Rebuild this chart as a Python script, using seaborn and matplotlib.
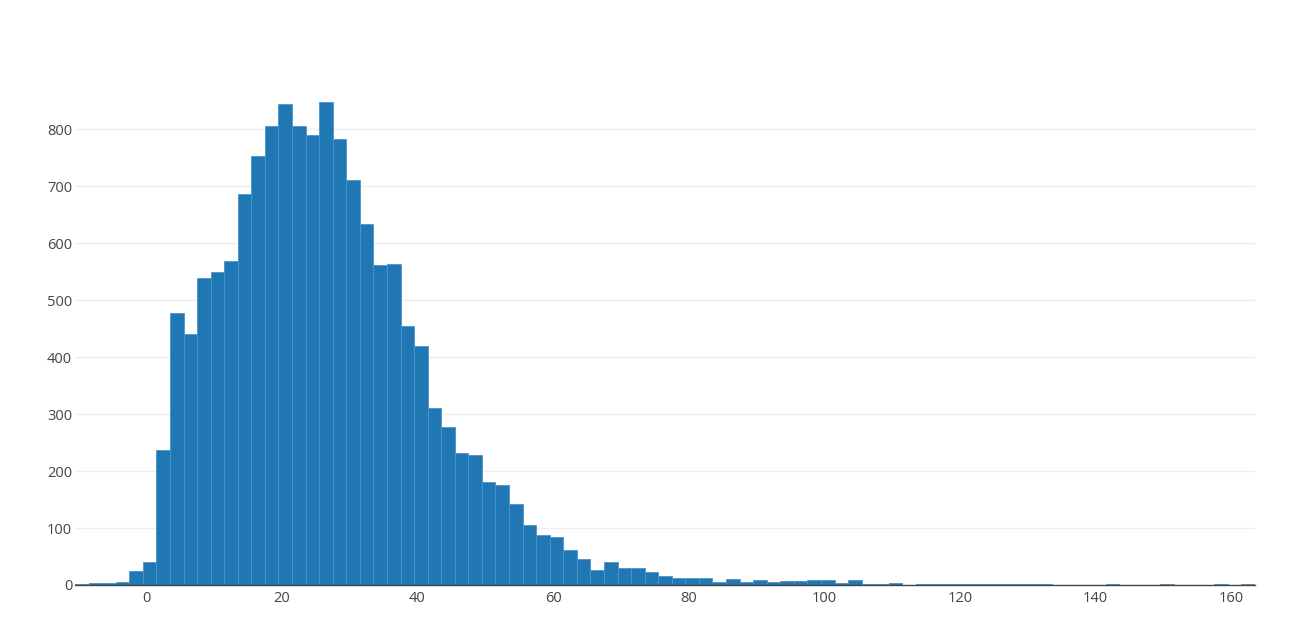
import numpy as np
import pandas as pd
import matplotlib
matplotlib.use("Agg")
import matplotlib.pyplot as plt
import seaborn as sns

# Histogram data (bin width 2, first bin starts at -10.5)
bin_start = -10.5
bin_width = 2.0
counts = [
    2, 3, 3, 5, 25, 40, 236, 477, 441, 539,
    550, 569, 686, 753, 806, 843, 805, 790, 848, 783,
    710, 634, 561, 563, 454, 420, 311, 277, 232, 228,
    181, 175, 142, 106, 87, 85, 62, 46, 26, 41,
    30, 30, 22, 15, 13, 13, 13, 5, 10, 6,
    9, 5, 7, 7, 8, 9, 3, 8, 1, 1,
    3, 0, 1, 1, 1, 1, 1, 1, 1, 1,
    1, 1, 0, 0, 0, 0, 1, 0, 0, 0,
    1, 0, 0, 0, 1, 0, 1,
]
x_ticks = [0, 20, 40, 60, 80, 100, 120, 140, 160]
y_ticks = [0, 100, 200, 300, 400, 500, 600, 700, 800]

n = len(counts)
edges = [float(bin_start + bin_width * i) for i in range(n + 1)]
centers = [(edges[i] + edges[i + 1]) / 2 for i in range(n)]
df = pd.DataFrame({"value": centers, "count": counts})

sns.set_theme(style="white")
plt.rcParams["font.family"] = ["Open Sans", "DejaVu Sans"]

fig = plt.figure(figsize=(13, 6.19), dpi=100)
ax = fig.add_axes([75 / 1300, (619 - 585) / 619, (1255 - 75) / 1300, (585 - 76) / 619])

sns.histplot(data=df, x="value", weights="count", bins=edges, ax=ax,
             color="#1f77b4", alpha=1.0, edgecolor="#4d93cc", linewidth=0.6)

ax.set_xlim(edges[0], edges[-1])
ax.set_ylim(0, 893)
ax.set_xticks(x_ticks)
ax.set_yticks(y_ticks)
ax.set_xlabel("")
ax.set_ylabel("")
ax.yaxis.grid(True, color="#eeeeee", linewidth=1)
ax.xaxis.grid(False)
ax.set_axisbelow(True)
for s in ["top", "right", "left"]:
    ax.spines[s].set_visible(False)
ax.spines["bottom"].set_color("#444444")
ax.spines["bottom"].set_linewidth(1)
ax.tick_params(axis="both", length=0, labelsize=10.5, colors="#444444")
ax.tick_params(axis="y", pad=2)
ax.tick_params(axis="x", pad=4)

fig.savefig("out.png", dpi=100)
